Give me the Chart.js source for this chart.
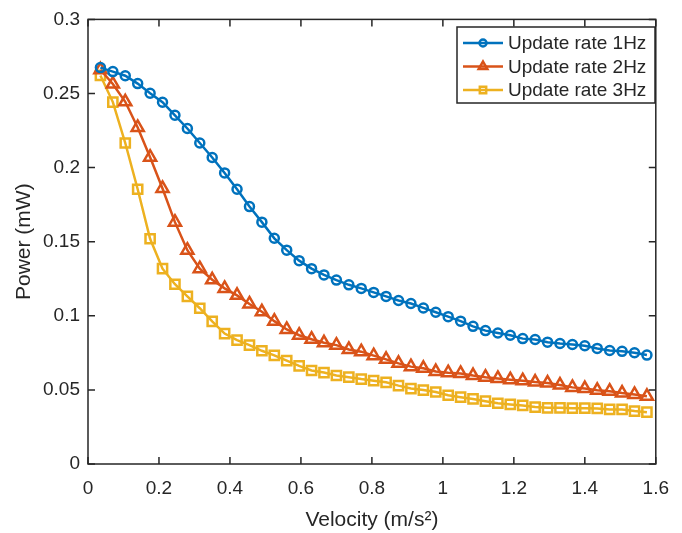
<!DOCTYPE html>
<html>
<head>
<meta charset="utf-8">
<script src="https://cdn.jsdelivr.net/npm/chart.js@4.4.1/dist/chart.umd.min.js"></script>
<style>
  html, body { margin: 0; padding: 0; background: #fff; }
  #wrap { width: 682px; height: 533px; }
</style>
</head>
<body>
<div id="wrap"><canvas id="chart" width="682" height="533"></canvas></div>
<script>
const velocity = [0.035, 0.07, 0.105, 0.14, 0.175, 0.21, 0.245, 0.28, 0.315, 0.35,
  0.385, 0.42, 0.455, 0.49, 0.525, 0.56, 0.595, 0.63, 0.665, 0.7,
  0.735, 0.77, 0.805, 0.84, 0.875, 0.91, 0.945, 0.98, 1.015, 1.05,
  1.085, 1.12, 1.155, 1.19, 1.225, 1.26, 1.295, 1.33, 1.365, 1.4,
  1.435, 1.47, 1.505, 1.54, 1.575];

const rate1Hz = [0.2675, 0.2648, 0.2620, 0.2567, 0.2502, 0.2441, 0.2353, 0.2264, 0.2166, 0.2068,
  0.1964, 0.1854, 0.1737, 0.1632, 0.1523, 0.1443, 0.1372, 0.1318, 0.1276, 0.1241,
  0.1209, 0.1185, 0.1158, 0.1131, 0.1103, 0.1083, 0.1053, 0.1024, 0.0994, 0.0964,
  0.0929, 0.0900, 0.0884, 0.0869, 0.0846, 0.0840, 0.0822, 0.0813, 0.0806, 0.0798,
  0.0780, 0.0766, 0.0760, 0.0751, 0.0735];

const rate2Hz = [0.2660, 0.2564, 0.2444, 0.2271, 0.2070, 0.1859, 0.1632, 0.1443, 0.1318, 0.1243,
  0.1185, 0.1138, 0.1080, 0.1027, 0.0964, 0.0908, 0.0869, 0.0842, 0.0818, 0.0802,
  0.0773, 0.0758, 0.0731, 0.0706, 0.0679, 0.0657, 0.0646, 0.0624, 0.0616, 0.0611,
  0.0597, 0.0586, 0.0577, 0.0569, 0.0562, 0.0553, 0.0546, 0.0533, 0.0517, 0.0509,
  0.0497, 0.0491, 0.0479, 0.0469, 0.0457];

const rate3Hz = [0.2622, 0.2442, 0.2166, 0.1854, 0.1520, 0.1318, 0.1213, 0.1131, 0.1051, 0.0962,
  0.0880, 0.0836, 0.0802, 0.0764, 0.0733, 0.0697, 0.0662, 0.0631, 0.0617, 0.0597,
  0.0586, 0.0573, 0.0562, 0.0551, 0.0529, 0.0509, 0.0499, 0.0486, 0.0464, 0.0451,
  0.0439, 0.0424, 0.0410, 0.0402, 0.0395, 0.0384, 0.0379, 0.0379, 0.0377, 0.0377,
  0.0375, 0.0368, 0.0368, 0.0357, 0.0350];

const seriesLabels = ['Update rate 1Hz', 'Update rate 2Hz', 'Update rate 3Hz'];
const xTicks = [0, 0.2, 0.4, 0.6, 0.8, 1, 1.2, 1.4, 1.6];
const yTicks = [0, 0.05, 0.1, 0.15, 0.2, 0.25, 0.3];

const FONT = '"Liberation Sans", Arial, Helvetica, sans-serif';
const INK = '#262626';

function toPoints(ys) {
  return ys.map((y, i) => ({ x: velocity[i], y }));
}

function series(label, ys, color, style, radius, legendRadius) {
  return {
    label,
    data: toPoints(ys),
    borderColor: color,
    backgroundColor: color,
    borderWidth: 2.5,
    tension: 0,
    pointStyle: style,
    pointRadius: radius,
    pointBorderWidth: 2.5,
    pointBorderColor: color,
    pointBackgroundColor: 'rgba(0,0,0,0)',
    pointHoverRadius: radius,
    legendRadius
  };
}

// box, inward ticks on all four sides, and the legend
const matlabFrame = {
  id: 'matlabFrame',
  afterDraw(chart) {
    const { ctx, chartArea: a, scales } = chart;
    const tl = 7;
    ctx.save();
    ctx.strokeStyle = INK;
    ctx.lineWidth = 1.5;
    ctx.strokeRect(a.left, a.top, a.right - a.left, a.bottom - a.top);
    ctx.beginPath();
    xTicks.forEach(v => {
      const px = scales.x.getPixelForValue(v);
      ctx.moveTo(px, a.bottom); ctx.lineTo(px, a.bottom - tl);
      ctx.moveTo(px, a.top); ctx.lineTo(px, a.top + tl);
    });
    yTicks.forEach(v => {
      const py = scales.y.getPixelForValue(v);
      ctx.moveTo(a.left, py); ctx.lineTo(a.left + tl, py);
      ctx.moveTo(a.right, py); ctx.lineTo(a.right - tl, py);
    });
    ctx.stroke();

    // legend
    const bx = 457, by = 27, bw = 198, bh = 76;
    ctx.fillStyle = '#fff';
    ctx.fillRect(bx, by, bw, bh);
    ctx.lineWidth = 1.5;
    ctx.strokeStyle = INK;
    ctx.strokeRect(bx, by, bw, bh);
    ctx.font = '19px ' + FONT;
    ctx.textBaseline = 'middle';
    ctx.textAlign = 'left';
    chart.data.datasets.forEach((ds, i) => {
      const y = by + 16 + i * 23.5;
      ctx.strokeStyle = ds.borderColor;
      ctx.lineWidth = 2.5;
      ctx.beginPath();
      ctx.moveTo(bx + 6, y);
      ctx.lineTo(bx + 46, y);
      ctx.stroke();
      ctx.fillStyle = 'rgba(0,0,0,0)';
      Chart.helpers.drawPoint(ctx, {
        pointStyle: ds.pointStyle,
        radius: ds.legendRadius,
        borderWidth: 2,
        rotation: 0
      }, bx + 26, y);
      ctx.fillStyle = INK;
      ctx.fillText(ds.label, bx + 51, y + 1);
    });
    ctx.restore();
  }
};

new Chart(document.getElementById('chart'), {
  type: 'line',
  data: {
    datasets: [
      series(seriesLabels[0], rate1Hz, '#0072BD', 'circle', 4.5, 3.5),
      series(seriesLabels[1], rate2Hz, '#D95319', 'triangle', 7, 5),
      series(seriesLabels[2], rate3Hz, '#EDB120', 'rect', 6.5, 4.5)
    ]
  },
  options: {
    responsive: false,
    animation: false,
    events: [],
    layout: { padding: { top: 14, right: 13, bottom: 0, left: 0 } },
    plugins: {
      legend: { display: false },
      tooltip: { enabled: false }
    },
    scales: {
      x: {
        type: 'linear',
        min: 0,
        max: 1.6,
        grid: { display: false, drawTicks: false },
        border: { display: false },
        afterBuildTicks: s => { s.ticks = xTicks.map(v => ({ value: v })); },
        afterFit: s => { s.height = 69; },
        ticks: {
          padding: 13,
          color: INK,
          font: { family: FONT, size: 19 },
          maxRotation: 0,
          autoSkip: false,
          callback: v => String(+v.toFixed(2))
        },
        title: {
          display: true,
          text: 'Velocity (m/s²)',
          color: INK,
          font: { family: FONT, size: 21 },
          padding: { top: 0, bottom: 0 }
        }
      },
      y: {
        min: 0,
        max: 0.3,
        grid: { display: false, drawTicks: false },
        border: { display: false },
        afterBuildTicks: s => { s.ticks = yTicks.map(v => ({ value: v })); },
        afterFit: s => { s.width = 88; },
        ticks: {
          padding: 8,
          color: INK,
          font: { family: FONT, size: 19 },
          autoSkip: false,
          callback: v => String(+v.toFixed(2))
        },
        title: {
          display: true,
          text: 'Power (mW)',
          color: INK,
          font: { family: FONT, size: 21 },
          padding: { top: 12, bottom: 0 }
        }
      }
    }
  },
  plugins: [matlabFrame]
});
</script>
</body>
</html>
